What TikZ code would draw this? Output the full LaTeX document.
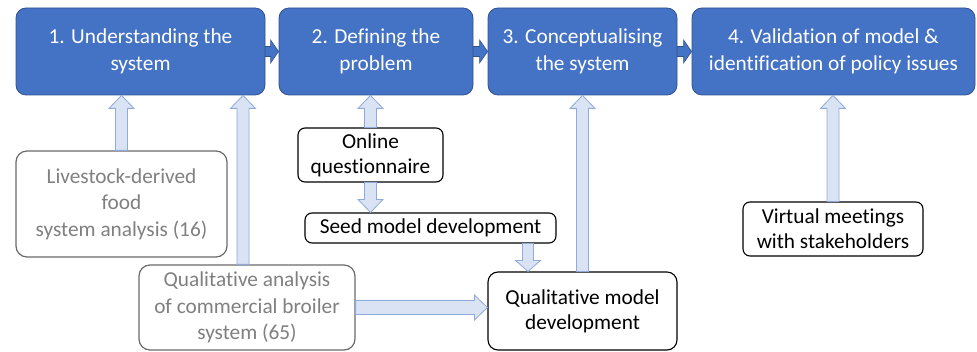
\documentclass[tikz,border=0pt]{standalone}
\usepackage{fontspec}
\setmainfont[Ligatures={NoCommon}]{Carlito}
\usetikzlibrary{calc}
\definecolor{boxblue}{HTML}{4472C4}
\definecolor{boxedge}{HTML}{2F528F}
\definecolor{arrfill}{HTML}{DAE3F3}
\definecolor{arredge}{HTML}{8FAADC}
\definecolor{graytext}{HTML}{808080}
\definecolor{grayedge}{HTML}{6A6A6A}
% block arrow: #1 style, #2 from, #3 to, #4 shaft half width, #5 head half width, #6 head length
\newcommand{\blkarrow}[6]{%
  \coordinate (ba-h) at ($(#3)!#6!(#2)$);
  \path[#1] ($(#2)!#4!90:(#3)$) -- ($(ba-h)!#4!90:(#3)$) -- ($(ba-h)!#5!90:(#3)$) -- (#3)
    -- ($(ba-h)!#5!-90:(#3)$) -- ($(ba-h)!#4!-90:(#3)$) -- ($(#2)!#4!-90:(#3)$) -- cycle;
}
\tikzset{
  stage/.style={draw=boxedge, fill=boxblue, text=white, rounded corners=10pt,
    minimum height=87pt, align=center, inner sep=0pt, line width=0.8pt,
    font=\fontsize{21.3}{26.5}\selectfont},
  srcbox/.style={draw=grayedge, fill=white, text=graytext, rounded corners=11pt,
    align=center, inner sep=0pt, line width=1.2pt, font=\fontsize{21.3}{26.5}\selectfont},
  blkbox/.style={draw=black, fill=white, text=black, rounded corners=7pt,
    align=center, inner sep=0pt, line width=1.1pt, font=\fontsize{21.3}{25}\selectfont},
  lightarr/.style={draw=arredge, fill=arrfill, line width=0.8pt, line join=miter},
  darkarr/.style={draw=boxedge, fill=boxblue, line width=0.6pt, line join=miter}
}
\begin{document}
\begin{tikzpicture}[x=1pt, y=-1pt]
\useasboundingbox (0,0) rectangle (977,352);
% stages
\node[stage, minimum width=249pt] (b1) at (140.5,51.5) {1. Understanding the\\system};
\node[stage, minimum width=194pt] (b2) at (376,51.5) {2. Defining the\\problem};
\node[stage, minimum width=189pt] (b3) at (582.5,51.5) {3. Conceptualising\\the system};
\node[stage, minimum width=283pt] (b4) at (833.5,51.5) {4. Validation of model \&\\identification of policy issues};
% source boxes
\node[srcbox, minimum width=211pt, minimum height=106pt] (live) at (121.5,204) {Livestock-derived\\food\\system analysis (16)};
\node[srcbox, minimum width=216pt, minimum height=85pt] (qa) at (247,307.5) {Qualitative analysis\\of commercial broiler\\system (65)};
% black boxes
\node[blkbox, minimum width=145pt, minimum height=54pt] (oq) at (370.5,155) {Online\\questionnaire};
\node[blkbox, minimum width=251pt, minimum height=30pt] (seed) at (430.5,228) {Seed model development};
\node[blkbox, minimum width=189pt, minimum height=78pt, rounded corners=10pt] (qmd) at (582.5,311) {Qualitative model\\development};
\node[blkbox, minimum width=180pt, minimum height=54pt] (vm) at (833,229) {Virtual meetings\\with stakeholders};
% helper coordinates
\coordinate (a1s) at (live.north);
\coordinate (a1e) at (live.north |- b1.south);
\coordinate (a2s) at ([xshift=-4pt]qa.north);
\coordinate (a2e) at (a2s |- b1.south);
\coordinate (a3s) at (oq.north);
\coordinate (a3e) at (oq.north |- b2.south);
\coordinate (a4s) at (oq.south);
\coordinate (a4e) at (oq.south |- seed.north);
\coordinate (a5s) at ([xshift=-54.5pt]qmd.north |- seed.south);
\coordinate (a5e) at ([xshift=-54.5pt]qmd.north);
\coordinate (a6s) at (qmd.north);
\coordinate (a6e) at (qmd.north |- b3.south);
\coordinate (a7s) at (vm.north);
\coordinate (a7e) at (vm.north |- b4.south);
\coordinate (a8s) at (qa.east);
\coordinate (a8e) at (qa.east -| qmd.west);
% light arrows
\blkarrow{lightarr}{a1s}{a1e}{6pt}{12.5pt}{13pt}
\blkarrow{lightarr}{a2s}{a2e}{6pt}{12.5pt}{13pt}
\blkarrow{lightarr}{a3s}{a3e}{6pt}{12.5pt}{13pt}
\blkarrow{lightarr}{a4s}{a4e}{6pt}{12.5pt}{13pt}
\blkarrow{lightarr}{a5s}{a5e}{5.5pt}{12.5pt}{11pt}
\blkarrow{lightarr}{a6s}{a6e}{6pt}{12.5pt}{13pt}
\blkarrow{lightarr}{a7s}{a7e}{6pt}{12.5pt}{13pt}
\blkarrow{lightarr}{a8s}{a8e}{7pt}{12.5pt}{13pt}
% dark arrows between stages
\blkarrow{darkarr}{b1.east}{b2.west}{5pt}{11.5pt}{8pt}
\blkarrow{darkarr}{b2.east}{b3.west}{5pt}{11.5pt}{8pt}
\blkarrow{darkarr}{b3.east}{b4.west}{5pt}{11.5pt}{8pt}
\end{tikzpicture}
\end{document}
